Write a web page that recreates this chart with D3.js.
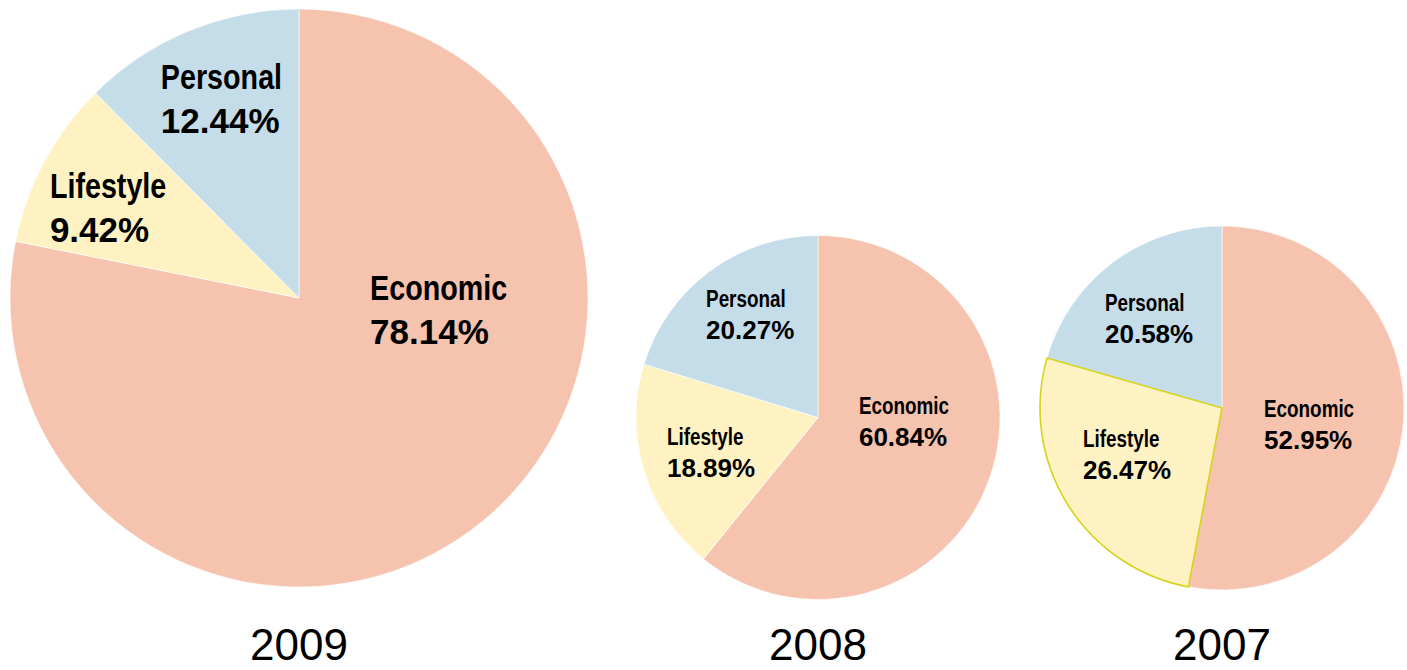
<!DOCTYPE html>
<html>
<head>
<meta charset="utf-8">
<script src="https://cdn.jsdelivr.net/npm/d3@7"></script>
<style>
  body { margin: 0; background: #fff; }
  .lbl { font-family: "Liberation Sans", "DejaVu Sans", sans-serif; font-weight: bold; fill: #000; }
  .pct { font-family: "Liberation Sans", "DejaVu Sans", sans-serif; font-weight: bold; fill: #000; }
  .year { font-family: "Liberation Sans", "DejaVu Sans", sans-serif; font-weight: normal; fill: #000; }
</style>
</head>
<body>
<div id="chart"></div>
<script>
// datos
const years = ["2009", "2008", "2007"];
const categories = ["Economic", "Lifestyle", "Personal"];
const values2009 = [78.14, 9.42, 12.44];
const values2008 = [60.84, 18.89, 20.27];
const values2007 = [52.95, 26.47, 20.58];
const seriesByYear = [values2009, values2008, values2007];

const colors = { Economic: "#f5c3ae", Lifestyle: "#fef2c2", Personal: "#c5dde9" };

const width = 1407, height = 670;
const squeeze = 0.82; // condensed look for the category names

// layout of each pie: center, radius, font sizes, label offsets (fraction of radius)
const layout = [
  { cx: 299, cy: 298, r: 289, lblSize: 35, pctSize: 35, gap: 44,
    offsets: { Economic: [0.246, 0.007], Lifestyle: [-0.862, -0.346], Personal: [-0.478, -0.723] } },
  { cx: 818, cy: 417.5, r: 182, lblSize: 23, pctSize: 26, gap: 32,
    offsets: { Economic: [0.225, -0.019], Lifestyle: [-0.830, 0.151], Personal: [-0.615, -0.607] } },
  { cx: 1222, cy: 408, r: 182, lblSize: 23, pctSize: 26, gap: 32,
    offsets: { Economic: [0.231, 0.049], Lifestyle: [-0.764, 0.214], Personal: [-0.643, -0.533] } }
];

const svg = d3.select("#chart")
  .append("svg")
  .attr("width", width)
  .attr("height", height);

const pie = d3.pie().sort(null).value(d => d.value);
const isOutlined = (year, cat) => year === "2007" && cat === "Lifestyle";

years.forEach((year, i) => {
  const L = layout[i];
  const datos = categories.map((c, j) => ({ cat: c, value: seriesByYear[i][j] }));
  const arc = d3.arc().innerRadius(0).outerRadius(L.r);

  const g = svg.append("g").attr("transform", `translate(${L.cx},${L.cy})`);

  g.selectAll("path")
    .data(pie(datos))
    .enter()
    .append("path")
    .attr("d", arc)
    .attr("fill", d => colors[d.data.cat])
    .attr("stroke", d => isOutlined(year, d.data.cat) ? "#d6d31c" : "#fff")
    .attr("stroke-width", d => isOutlined(year, d.data.cat) ? 1.6 : 0.6);

  g.selectAll("path").filter(d => isOutlined(year, d.data.cat)).raise();

  // etiquetas
  datos.forEach(d => {
    const [ox, oy] = L.offsets[d.cat];
    const x = ox * L.r, y = oy * L.r;
    g.append("text")
      .attr("class", "lbl")
      .attr("transform", `translate(${x},${y}) scale(${squeeze},1)`)
      .style("font-size", L.lblSize + "px")
      .text(d.cat);
    g.append("text")
      .attr("class", "pct")
      .attr("x", x)
      .attr("y", y + L.gap)
      .style("font-size", L.pctSize + "px")
      .text(d.value.toFixed(2) + "%");
  });

  svg.append("text")
    .attr("class", "year")
    .attr("x", L.cx)
    .attr("y", 660)
    .attr("text-anchor", "middle")
    .style("font-size", "44px")
    .text(year);
});
</script>
</body>
</html>
